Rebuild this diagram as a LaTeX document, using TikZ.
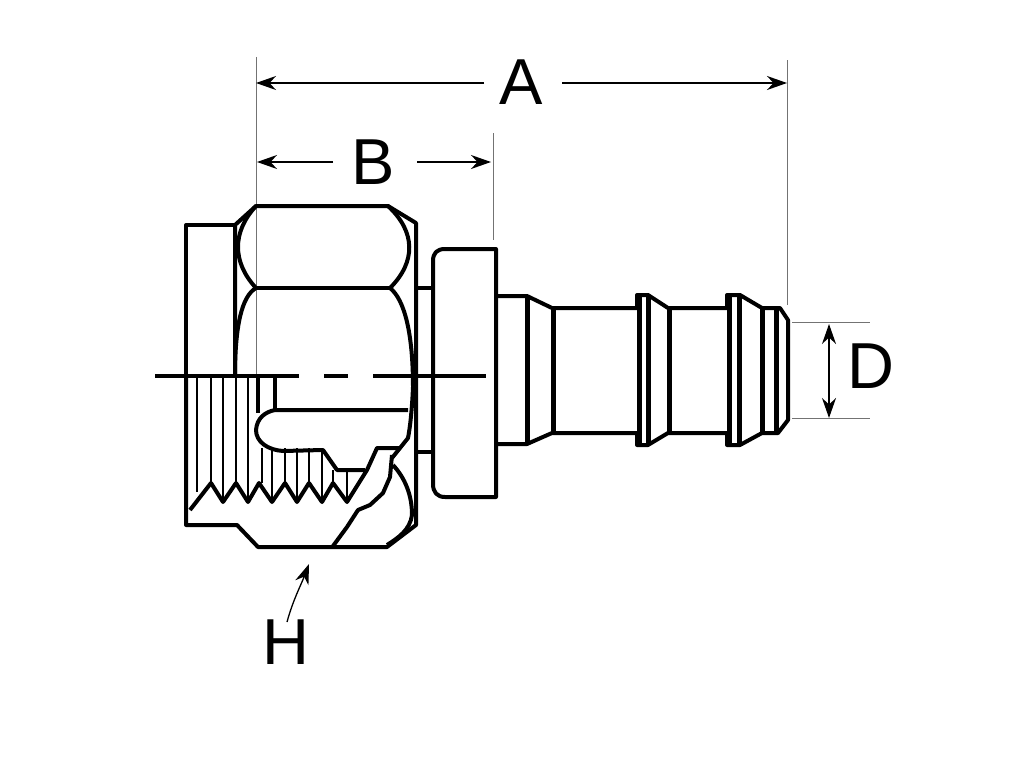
\documentclass[tikz,border=0pt]{standalone}
\usepackage{fontspec}
\setmainfont{Liberation Sans}
\usetikzlibrary{arrows.meta}
\tikzset{
  body/.style={line width=4pt,line join=round},
  heavy/.style={line width=5pt},
  fine/.style={line width=2pt},
  thin guide/.style={line width=0.9pt,draw=black!55},
  dim/.style={line width=1.3pt,{Stealth[length=20pt,width=14pt]}-{Stealth[length=20pt,width=14pt]}},
  dimend/.style={line width=1.3pt,-{Stealth[length=20pt,width=14pt]}},
  letter/.style={font=\fontsize{65}{65}\selectfont,inner sep=0pt}
}
\begin{document}
\begin{tikzpicture}[x=1pt,y=-1pt]
    \useasboundingbox (0,0) rectangle (1024,768);
    % guide lines
    \draw[thin guide] (256,57) -- (256,376);
    \draw[thin guide] (493,133) -- (493,240);
    \draw[thin guide] (787,60) -- (787,305);
    \draw[thin guide] (792,322) -- (870,322);
    \draw[thin guide] (792,418) -- (870,418);
    % labels and dimensions
    \node[letter] (labelA) at (521,82) {A};
    \node[letter] (labelB) at (373,162) {B};
    \node[letter] (labelD) at (871,366) {D};
    \node[letter] (labelH) at (286,642) {H};
    \coordinate (endAl) at (256,83);
    \coordinate (endAr) at (787,83);
    \coordinate (endBl) at (257,162);
    \coordinate (endBr) at (491,162);
    \coordinate (endDt) at (829,324);
    \coordinate (endDb) at (829,418);
    \coordinate (endH) at (309,564);
    \draw[dimend] (484,83) -- (endAl);
    \draw[dimend] (562,83) -- (endAr);
    \draw[dimend] (333,162) -- (endBl);
    \draw[dimend] (417,162) -- (endBr);
    \draw[dim] (endDt) -- (endDb);
    \draw[dimend] (287,622) .. controls (293,600) and (301,585) .. (endH);
    % nut, outer
    \draw[body] (186,376) -- (186,225) -- (235,225);
    \draw[body] (235,376) -- (235,225) -- (256,206) -- (388,206) -- (416,223) -- (416,525)
        -- (387,547) -- (258,547) -- (237,525) -- (186,525) -- (186,376);
    \draw[body] (256,206) .. controls (232,232) and (232,262) .. (256,288);
    \draw[body] (388,206) .. controls (416,232) and (416,262) .. (390,288);
    \draw[body] (256,288) -- (390,288);
    \draw[body] (256,288) .. controls (242,296) and (235,325) .. (235,376);
    \draw[body] (390,288) .. controls (405,300) and (413,335) .. (413,387);
    % centre line
    \draw[body] (155,376) -- (299,376);
    \draw[body] (324,376) -- (348,376);
    \draw[body] (373,376) -- (486,376);
    % flange
    \draw[body] (496,249) -- (445,249) .. controls (437,249) and (433,253) .. (433,261)
        -- (433,484) .. controls (433,492) and (437,497) .. (445,497) -- (496,497) -- cycle;
    \draw[body] (416,288) -- (433,288);
    \draw[body] (416,452) -- (433,452);
    % threads
    \foreach \tx/\ty in {197/492,211/483,223/502,236/483,248/502}
        \draw[fine] (\tx,376) -- (\tx,\ty);
    \draw[body] (258,376) -- (258,413);
    \draw[body] (275,376) -- (275,409);
    \foreach \tx/\ty in {262/483,272/502,285/483,297/502,309/483,322/502}
        \draw[fine] (\tx,448) -- (\tx,\ty);
    \draw[fine] (333,470) -- (333,483);
    \draw[fine] (347,472) -- (347,502);
    \draw[body] (190,510) -- (211,483) -- (223,502) -- (236,483) -- (248,502) -- (259,483) -- (272,502)
        -- (285,483) -- (297,502) -- (309,483) -- (322,502) -- (333,483) -- (347,502) -- (367,470)
        -- (377,448) -- (400,448);
    % recess
    \draw[body] (408,410) -- (275,410) .. controls (265,412) and (257,418) .. (256,430)
        .. controls (256,442) and (268,450) .. (283,451) -- (323,450) -- (337,470) -- (365,470);
    \draw[body] (413,387) .. controls (412,410) and (410,428) .. (408,438) -- (400,448) -- (392,458);
    % broken edge
    \draw[body] (392,455) -- (390,477) -- (383,493) -- (370,505) -- (358,510) -- (347,527) -- (333,546);
    \draw[body] (393,465) .. controls (405,478) and (412,495) .. (412,515) .. controls (410,530) and (398,538) .. (387,545);
    % barb
    \draw[body] (497,296) -- (527,296) -- (552,308) -- (637,308) -- (637,295) -- (648,295) -- (668,308)
        -- (727,308) -- (727,295) -- (740,295) -- (762,308) -- (780,308) -- (788,320)
        -- (788,420) -- (778,433) -- (762,433) -- (740,445) -- (727,445) -- (727,433) -- (668,433)
        -- (648,445) -- (637,445) -- (637,433) -- (552,433) -- (527,444) -- (497,444);
    \foreach \bx/\bt/\bb in {527/296/444,553/308/433,639/295/445,648/295/445,669/308/433,729/295/445,739/295/445,762/308/433,776/308/433}
        \draw[heavy] (\bx,\bt) -- (\bx,\bb);
\end{tikzpicture}
\end{document}
